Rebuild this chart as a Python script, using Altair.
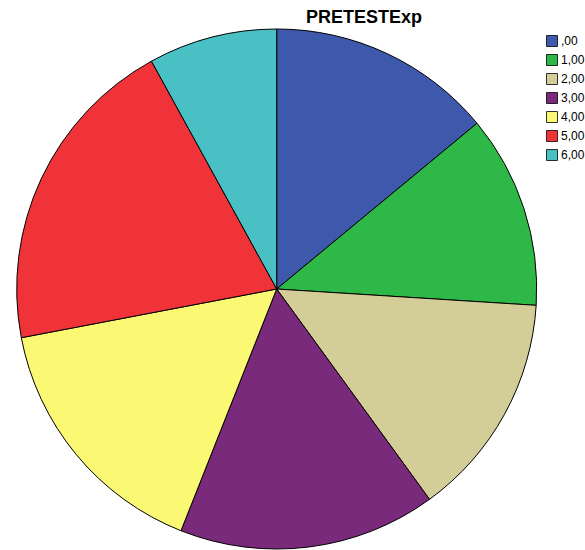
import altair as alt
import pandas as pd

categories = [",00", "1,00", "2,00", "3,00", "4,00", "5,00", "6,00"]
counts = [7, 6, 7, 8, 8, 10, 4]
colors = ["#3E58AC", "#2EB848", "#D3CE97", "#7A2A7B", "#FBF873", "#EF3338", "#48C0C4"]
title_text = "PRETESTExp"

df = pd.DataFrame({"cat": categories, "n": counts, "idx": list(range(len(categories)))})

pie = alt.Chart(df).mark_arc(radius=260, stroke="black", strokeWidth=1).encode(
    theta=alt.Theta("n:Q", stack=True),
    order=alt.Order("idx:Q"),
    color=alt.Color(
        "cat:N",
        sort=categories,
        scale=alt.Scale(domain=categories, range=colors),
        legend=alt.Legend(
            title=None,
            orient="none",
            legendX=546,
            legendY=35,
            symbolType="square",
            symbolSize=121,
            symbolStrokeColor="black",
            symbolStrokeWidth=0.8,
            symbolOpacity=1,
            labelFont="Liberation Sans",
            labelFontSize=12,
            labelColor="black",
            labelOffset=3,
            rowPadding=3,
            padding=0,
        ),
    ),
    x=alt.value(276.7),
    y=alt.value(289),
)

title = alt.Chart(pd.DataFrame({"t": [title_text]})).mark_text(
    font="Liberation Sans", fontSize=18, fontWeight="bold", color="black",
    align="center", baseline="middle"
).encode(text="t:N", x=alt.value(364), y=alt.value(18))

chart = alt.layer(pie, title).properties(
    width=585, height=550, padding=0, autosize=alt.AutoSizeParams(type="none")
).configure_view(stroke=None)

chart.save("out.html", embed_options={"renderer": "svg", "actions": False})
